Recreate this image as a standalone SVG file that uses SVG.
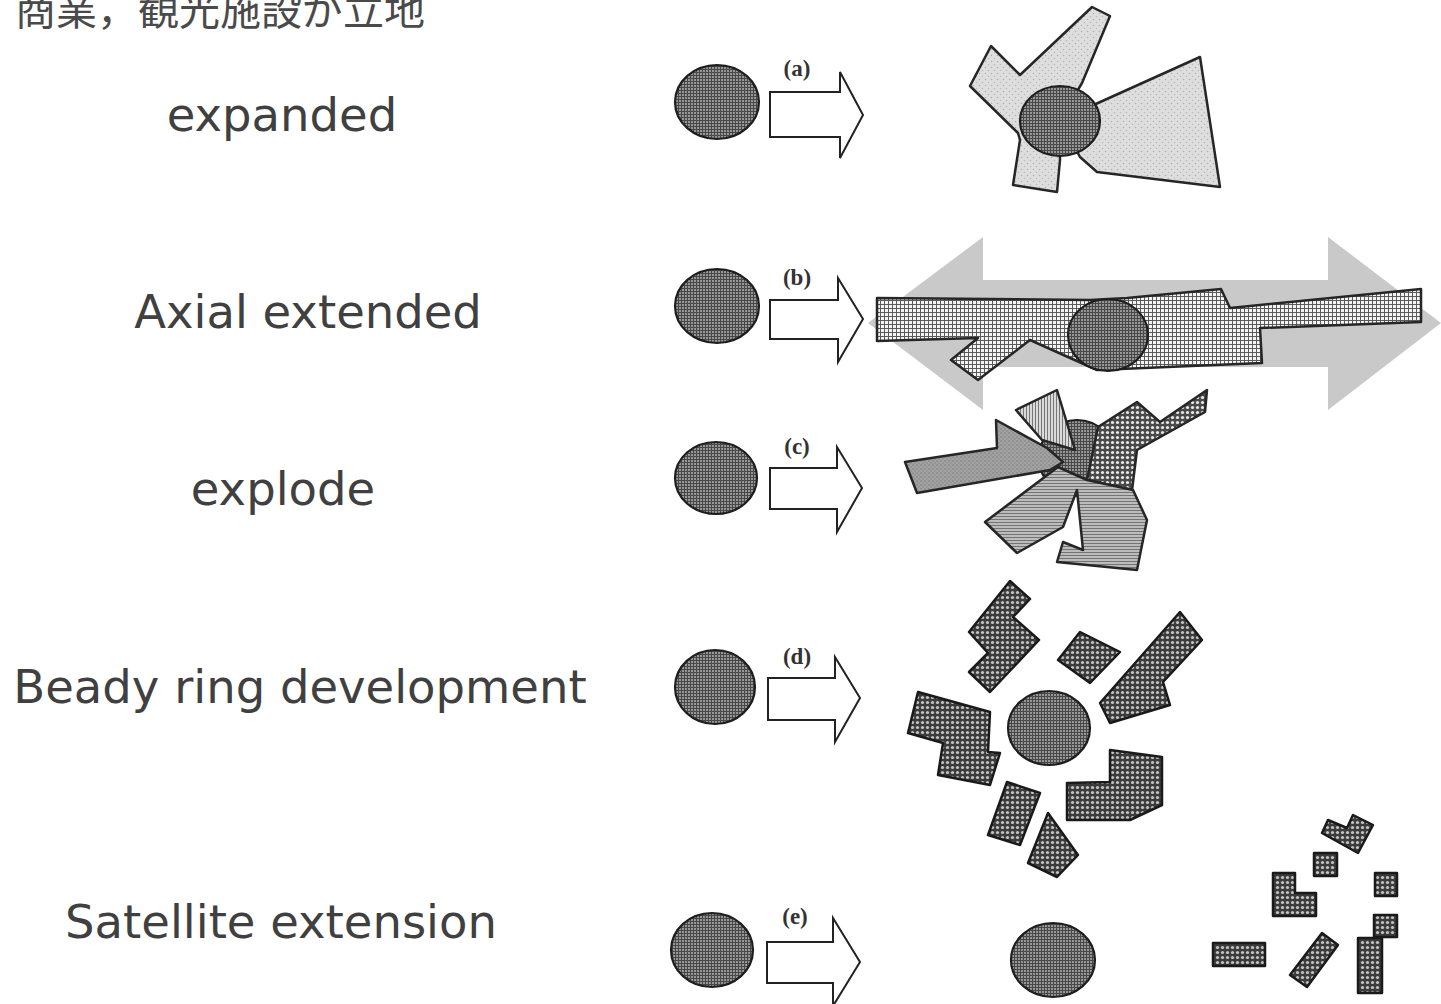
<svg xmlns="http://www.w3.org/2000/svg" width="1441" height="1004" viewBox="0 0 1441 1004">
<style>
.lbl{font-family:"DejaVu Sans",Verdana,sans-serif;font-size:46.5px;fill:#404040;text-anchor:middle}
.jp{font-family:"Noto Sans CJK JP",sans-serif;font-size:41px;fill:#4a4a4a}
.tag{font-family:"Liberation Serif",serif;font-size:23px;font-weight:bold;fill:#333;text-anchor:middle}
.blk{fill:#fff;stroke:#222;stroke-width:2;stroke-linejoin:miter}
.core{fill:url(#pCore);stroke:#1e1e1e;stroke-width:2.2}
.ol{stroke:#262626;stroke-width:2.5;stroke-linejoin:round}
.dk{fill:url(#pDots);stroke:#1a1a1a;stroke-width:2.5;stroke-linejoin:round}
</style>
<defs>
<pattern id="pCore" width="3" height="3" patternUnits="userSpaceOnUse">
<rect width="3" height="3" fill="#969696"/>
<path d="M0.5,0V3M0,0.5H3" stroke="#484848" stroke-width="1"/>
</pattern>
<pattern id="pStip" width="6" height="6" patternUnits="userSpaceOnUse">
<rect width="6" height="6" fill="#dedede"/>
<circle cx="1.5" cy="1.5" r="0.8" fill="#b0b0b0"/>
<circle cx="4.5" cy="4.5" r="0.8" fill="#bcbcbc"/>
</pattern>
<pattern id="pGrid" width="4" height="4" patternUnits="userSpaceOnUse">
<rect width="4" height="4" fill="#f4f4f4"/>
<path d="M0.5,0V4M0,0.5H4" stroke="#5a5a5a" stroke-width="1"/>
</pattern>
<pattern id="pDots" width="5" height="5" patternUnits="userSpaceOnUse">
<rect width="5" height="5" fill="#3c3c3c"/>
<circle cx="2.5" cy="2.5" r="1.6" fill="#c4c4c4"/>
</pattern>
<pattern id="pDotsL" width="5" height="5" patternUnits="userSpaceOnUse">
<rect width="5" height="5" fill="#4a4a4a"/>
<circle cx="2.5" cy="2.5" r="1.6" fill="#e8e8e8"/>
</pattern>
<pattern id="pV" width="3" height="3" patternUnits="userSpaceOnUse">
<rect width="3" height="3" fill="#dadada"/>
<path d="M0.5,0V3" stroke="#777" stroke-width="1"/>
</pattern>
<pattern id="pH" width="3" height="3" patternUnits="userSpaceOnUse">
<rect width="3" height="3" fill="#bcbcbc"/>
<path d="M0,0.5H3" stroke="#747474" stroke-width="1"/>
</pattern>
<pattern id="pDark" width="4" height="4" patternUnits="userSpaceOnUse">
<rect width="4" height="4" fill="#a2a2a2"/>
<circle cx="1" cy="1" r="0.8" fill="#7c7c7c"/>
<circle cx="3" cy="3" r="0.8" fill="#888"/>
</pattern>
</defs>
<rect width="1441" height="1004" fill="#fff"/>

<text class="jp" x="15" y="25">商業，観光施設が立地</text>

<g id="labels">
<text class="lbl" x="282" y="131">expanded</text>
<text class="lbl" x="308" y="328">Axial extended</text>
<text class="lbl" x="283" y="505">explode</text>
<text class="lbl" x="300" y="703">Beady ring development</text>
<text class="lbl" x="281" y="938">Satellite extension</text>
</g>

<g id="origins">
<ellipse class="core" cx="717" cy="102" rx="42" ry="37"/>
<ellipse class="core" cx="717" cy="306" rx="42" ry="37"/>
<ellipse class="core" cx="716" cy="478" rx="41" ry="36"/>
<ellipse class="core" cx="715" cy="687" rx="40" ry="37"/>
<ellipse class="core" cx="712" cy="950" rx="41" ry="37"/>
</g>

<g id="connectors">
<path class="blk" d="M770,92H840V72L863,115L840,158V137H770Z"/>
<path class="blk" d="M770,300H838V278L863,319L838,362V339H770Z"/>
<path class="blk" d="M770,468H837V447L862,488L837,532V509H770Z"/>
<path class="blk" d="M768,678H835V657L860,698L835,742V720H768Z"/>
<path class="blk" d="M767,942H833V918L860,962L833,1006V983H767Z"/>
<text class="tag" x="797" y="76">(a)</text>
<text class="tag" x="797" y="285">(b)</text>
<text class="tag" x="797" y="454">(c)</text>
<text class="tag" x="797" y="664">(d)</text>
<text class="tag" x="795" y="924">(e)</text>
</g>

<g id="a-expanded">
<polygon class="ol" fill="url(#pStip)" points="1098,103 1200,57 1220,187 1097,172 1080,157 1060,120"/>
<polygon class="ol" fill="url(#pStip)" points="970,86 991,46 1020,75 1092,7 1110,16 1082,83 1060,120 1060,160 1057,192 1013,185 1020,140 1018,133"/>
<ellipse class="core" cx="1060" cy="121" rx="40" ry="35"/>
</g>

<g id="b-axial">
<polygon fill="#c9c9c9" points="868,323 983,237 983,280 1328,280 1328,237 1441,323 1328,410 1328,367 983,367 983,410"/>
<polygon class="ol" fill="url(#pGrid)" points="877,298 877,341 978,338 951,360 978,380 1030,340 1097,370 1262,363 1260,328 1421,322 1421,289 1230,308 1221,289 1127,298 1090,300"/>
<ellipse class="core" cx="1108" cy="335" rx="40" ry="36"/>
</g>

<g id="c-explode">
<ellipse class="core" cx="1077" cy="458" rx="38" ry="38"/>
<polygon class="ol" fill="url(#pDark)" points="905,462 997,448 996,420 1047,448 1063,462 1050,470 917,493"/>
<polygon class="ol" fill="url(#pV)" points="1016,410 1057,390 1075,450 1042,440"/>
<polygon class="ol" fill="url(#pDotsL)" points="1087,480 1098,427 1137,402 1160,422 1207,390 1205,412 1137,450 1132,490"/>
<polygon class="ol" fill="url(#pH)" points="1058,467 1087,480 1133,490 1147,520 1137,570 1057,562 1063,542 1083,550 1077,490 1063,527 1017,553 985,522"/>
</g>

<g id="d-beady">
<ellipse class="core" cx="1049" cy="728" rx="41" ry="37"/>
<polygon class="dk" points="1010,581 1030,599 1013,617 1039,640 990,692 969,672 988,653 969,632"/>
<polygon class="dk" points="1058,660 1080,632 1120,652 1090,683"/>
<polygon class="dk" points="1100,703 1180,612 1202,640 1163,682 1170,705 1110,723"/>
<polygon class="dk" points="908,733 918,692 990,712 988,752 1000,753 990,785 938,775 943,743"/>
<polygon class="dk" points="1067,783 1110,782 1110,750 1162,757 1162,805 1130,820 1067,820"/>
<polygon class="dk" points="1007,782 1040,793 1020,845 988,835"/>
<polygon class="dk" points="1048,813 1078,855 1057,877 1028,863"/>
</g>

<g id="e-satellite">
<ellipse class="core" cx="1053" cy="960" rx="42" ry="37"/>
<polygon class="dk" points="1322,833 1328,820 1347,828 1353,815 1373,825 1358,853"/>
<rect class="dk" x="1314" y="853" width="23" height="23"/>
<polygon class="dk" points="1273,873 1295,873 1295,893 1316,893 1316,916 1273,916"/>
<rect class="dk" x="1375" y="873" width="22" height="23"/>
<rect class="dk" x="1374" y="915" width="23" height="22"/>
<rect class="dk" x="1213" y="943" width="52" height="23"/>
<polygon class="dk" points="1290,975 1322,933 1338,945 1307,987"/>
<rect class="dk" x="1358" y="938" width="24" height="55"/>
</g>
</svg>
